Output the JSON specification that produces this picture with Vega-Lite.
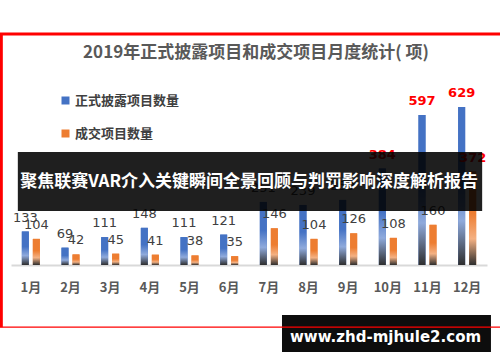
{
  "$schema": "https://vega.github.io/schema/vega-lite/v6.json",
  "width": 476,
  "height": 205,
  "autosize": {"type": "none"},
  "padding": {"left": 11, "top": 60, "right": 13, "bottom": 97},
  "background": "white",
  "config": {"view": {"stroke": null}, "font": "Noto Sans CJK SC"},
  "title": {"text": "2019年正式披露项目和成交项目月度统计( 项)", "fontSize": 17, "fontWeight": "bold", "color": "#595959", "anchor": "middle", "offset": 3, "dx": 7, "dy": 33, "font": "Noto Sans CJK SC"},
  "datasets": {
    "bars": [
      {"month": "1月", "series": "正式披露项目数量", "value": 133},
      {"month": "2月", "series": "正式披露项目数量", "value": 69},
      {"month": "3月", "series": "正式披露项目数量", "value": 111},
      {"month": "4月", "series": "正式披露项目数量", "value": 148},
      {"month": "5月", "series": "正式披露项目数量", "value": 111},
      {"month": "6月", "series": "正式披露项目数量", "value": 121},
      {"month": "7月", "series": "正式披露项目数量", "value": 251},
      {"month": "8月", "series": "正式披露项目数量", "value": 239},
      {"month": "9月", "series": "正式披露项目数量", "value": 259},
      {"month": "10月", "series": "正式披露项目数量", "value": 384},
      {"month": "11月", "series": "正式披露项目数量", "value": 597},
      {"month": "12月", "series": "正式披露项目数量", "value": 629},
      {"month": "1月", "series": "成交项目数量", "value": 104},
      {"month": "2月", "series": "成交项目数量", "value": 42},
      {"month": "3月", "series": "成交项目数量", "value": 45},
      {"month": "4月", "series": "成交项目数量", "value": 41},
      {"month": "5月", "series": "成交项目数量", "value": 38},
      {"month": "6月", "series": "成交项目数量", "value": 35},
      {"month": "7月", "series": "成交项目数量", "value": 146},
      {"month": "8月", "series": "成交项目数量", "value": 104},
      {"month": "9月", "series": "成交项目数量", "value": 126},
      {"month": "10月", "series": "成交项目数量", "value": 108},
      {"month": "11月", "series": "成交项目数量", "value": 160},
      {"month": "12月", "series": "成交项目数量", "value": 372}
    ],
    "banner": [{"t": "聚焦联赛VAR介入关键瞬间全景回顾与判罚影响深度解析报告"}],
    "mark": [{"t": "www.zhd-mjhule2.com"}]
  },
  "data": {"name": "bars"},
  "layer": [
    {
      "mark": {"type": "bar"},
      "encoding": {
        "x": {"field": "month", "type": "nominal", "sort": ["1月","2月","3月","4月","5月","6月","7月","8月","9月","10月","11月","12月"], "scale": {"paddingInner": 0.546, "paddingOuter": 0.273}, "axis": {"title": null, "ticks": false, "domainColor": "#D9D9D9", "domainWidth": 2, "labelAngle": 0, "labelFontSize": 13, "labelFontWeight": "bold", "labelColor": "#595959", "labelPadding": 16, "labelFont": "Noto Sans CJK SC", "grid": false}},
        "xOffset": {"field": "series", "type": "nominal", "sort": ["正式披露项目数量", "成交项目数量"], "scale": {"paddingInner": 0.364, "paddingOuter": 0}},
        "y": {"field": "value", "type": "quantitative", "scale": {"domain": [0, 816], "nice": false, "zero": true}, "axis": null},
        "color": {"field": "series", "type": "nominal", "scale": {"domain": ["正式披露项目数量", "成交项目数量"], "range": ["#4472C4", "#ED7D31"]}, "legend": {"orient": "none", "legendX": 48, "legendY": 34, "title": null, "symbolType": "square", "symbolSize": 64, "symbolStrokeWidth": 0, "labelFontSize": 13, "labelFontWeight": "bold", "labelColor": "#404040", "labelFont": "Noto Sans CJK SC", "rowPadding": 19, "labelOffset": 3, "padding": 0}}
      }
    },
    {
      "transform": [{"filter": "datum.series === '正式披露项目数量'"}],
      "mark": {"type": "bar", "color": {"gradient": "linear", "x1": 0, "y1": 0, "x2": 0, "y2": 1, "stops": [{"offset": 0, "color": "#4472C4"}, {"offset": 0.45, "color": "#4472C4"}, {"offset": 0.72, "color": "#8FAADC"}, {"offset": 1, "color": "#2E2E2E"}]}},
      "encoding": {
        "x": {"field": "month", "type": "nominal", "sort": ["1月","2月","3月","4月","5月","6月","7月","8月","9月","10月","11月","12月"]},
        "xOffset": {"field": "series", "type": "nominal", "sort": ["正式披露项目数量", "成交项目数量"]},
        "y": {"field": "value", "type": "quantitative", "scale": {"domain": [0, 816], "nice": false}, "axis": null}
      }
    },
    {
      "transform": [{"filter": "datum.series === '成交项目数量'"}],
      "mark": {"type": "bar", "color": {"gradient": "linear", "x1": 0, "y1": 0, "x2": 0, "y2": 1, "stops": [{"offset": 0, "color": "#ED7D31"}, {"offset": 0.45, "color": "#ED7D31"}, {"offset": 0.72, "color": "#F4B183"}, {"offset": 1, "color": "#2E2E2E"}]}},
      "encoding": {
        "x": {"field": "month", "type": "nominal", "sort": ["1月","2月","3月","4月","5月","6月","7月","8月","9月","10月","11月","12月"]},
        "xOffset": {"field": "series", "type": "nominal", "sort": ["正式披露项目数量", "成交项目数量"]},
        "y": {"field": "value", "type": "quantitative", "scale": {"domain": [0, 816], "nice": false}, "axis": null}
      }
    },
    {
      "transform": [{"filter": "datum.value <= 300"}],
      "mark": {"type": "text", "baseline": "bottom", "dy": -7, "fontSize": 13, "font": "DejaVu Sans", "color": "#404040"},
      "encoding": {
        "x": {"field": "month", "type": "nominal", "sort": ["1月","2月","3月","4月","5月","6月","7月","8月","9月","10月","11月","12月"]},
        "xOffset": {"field": "series", "type": "nominal", "sort": ["正式披露项目数量", "成交项目数量"]},
        "y": {"field": "value", "type": "quantitative", "scale": {"domain": [0, 816], "nice": false}, "axis": null},
        "text": {"field": "value", "type": "quantitative"}
      }
    },
    {
      "transform": [{"filter": "datum.value > 300"}],
      "mark": {"type": "text", "baseline": "bottom", "dy": -7, "fontSize": 13, "fontWeight": "bold", "font": "DejaVu Sans", "color": "#FF0000"},
      "encoding": {
        "x": {"field": "month", "type": "nominal", "sort": ["1月","2月","3月","4月","5月","6月","7月","8月","9月","10月","11月","12月"]},
        "xOffset": {"field": "series", "type": "nominal", "sort": ["正式披露项目数量", "成交项目数量"]},
        "y": {"field": "value", "type": "quantitative", "scale": {"domain": [0, 816], "nice": false}, "axis": null},
        "text": {"field": "value", "type": "quantitative"}
      }
    },
    {
      "data": {"name": "banner"},
      "mark": {"type": "rect", "color": "#000000", "opacity": 0.88, "xOffset": -4, "x2Offset": 24},
      "encoding": {
        "x": {"datum": "1月", "type": "nominal", "bandPosition": 0},
        "x2": {"datum": "12月", "bandPosition": 0},
        "y": {"datum": 449.8, "type": "quantitative", "scale": {"domain": [0, 816], "nice": false}, "axis": null},
        "y2": {"datum": 214.9}
      }
    },
    {
      "data": {"name": "banner"},
      "mark": {"type": "text", "color": "#FFFFFF", "fontSize": 17, "fontWeight": "bold", "font": "Noto Sans CJK SC", "baseline": "middle", "align": "center", "xOffset": 20},
      "encoding": {
        "x": {"datum": "6月", "type": "nominal"},
        "y": {"datum": 330.4, "type": "quantitative", "scale": {"domain": [0, 816], "nice": false}, "axis": null},
        "text": {"field": "t", "type": "nominal"}
      }
    },
    {
      "data": {"name": "mark"},
      "mark": {"type": "rect", "color": "#000000", "opacity": 0.95, "xOffset": -17.5, "x2Offset": 32.8},
      "encoding": {
        "x": {"datum": "8月", "type": "nominal", "bandPosition": 0},
        "x2": {"datum": "12月", "bandPosition": 0},
        "y": {"datum": -199, "type": "quantitative", "scale": {"domain": [0, 816], "nice": false}, "axis": null},
        "y2": {"datum": -346.3}
      }
    },
    {
      "data": {"name": "mark"},
      "mark": {"type": "text", "color": "#FFFFFF", "fontSize": 15, "fontWeight": "bold", "font": "DejaVu Sans", "baseline": "middle", "align": "center", "xOffset": -2.3},
      "encoding": {
        "x": {"datum": "10月", "type": "nominal"},
        "y": {"datum": -285.4, "type": "quantitative", "scale": {"domain": [0, 816], "nice": false}, "axis": null},
        "text": {"field": "t", "type": "nominal"}
      }
    },
    {
      "data": {"name": "mark"},
      "mark": {"type": "rule", "color": "#FF0000", "strokeWidth": 3, "xOffset": -22, "x2Offset": 50},
      "encoding": {
        "x": {"datum": "1月", "type": "nominal", "bandPosition": 0},
        "x2": {"datum": "12月", "bandPosition": 0},
        "y": {"datum": 919.5, "type": "quantitative", "scale": {"domain": [0, 816], "nice": false}, "axis": null}
      }
    },
    {
      "data": {"name": "mark"},
      "mark": {"type": "rule", "color": "#FF0000", "strokeWidth": 1.2, "xOffset": -22, "x2Offset": 50},
      "encoding": {
        "x": {"datum": "1月", "type": "nominal", "bandPosition": 0},
        "x2": {"datum": "12月", "bandPosition": 0},
        "y": {"datum": -247.6, "type": "quantitative", "scale": {"domain": [0, 816], "nice": false}, "axis": null}
      }
    },
    {
      "data": {"name": "mark"},
      "mark": {"type": "rule", "color": "#FF0000", "strokeWidth": 3, "xOffset": -20.5},
      "encoding": {
        "x": {"datum": "1月", "type": "nominal", "bandPosition": 0},
        "y": {"datum": 919.5, "type": "quantitative", "scale": {"domain": [0, 816], "nice": false}, "axis": null},
        "y2": {"datum": -247.6}
      }
    }
  ]
}
